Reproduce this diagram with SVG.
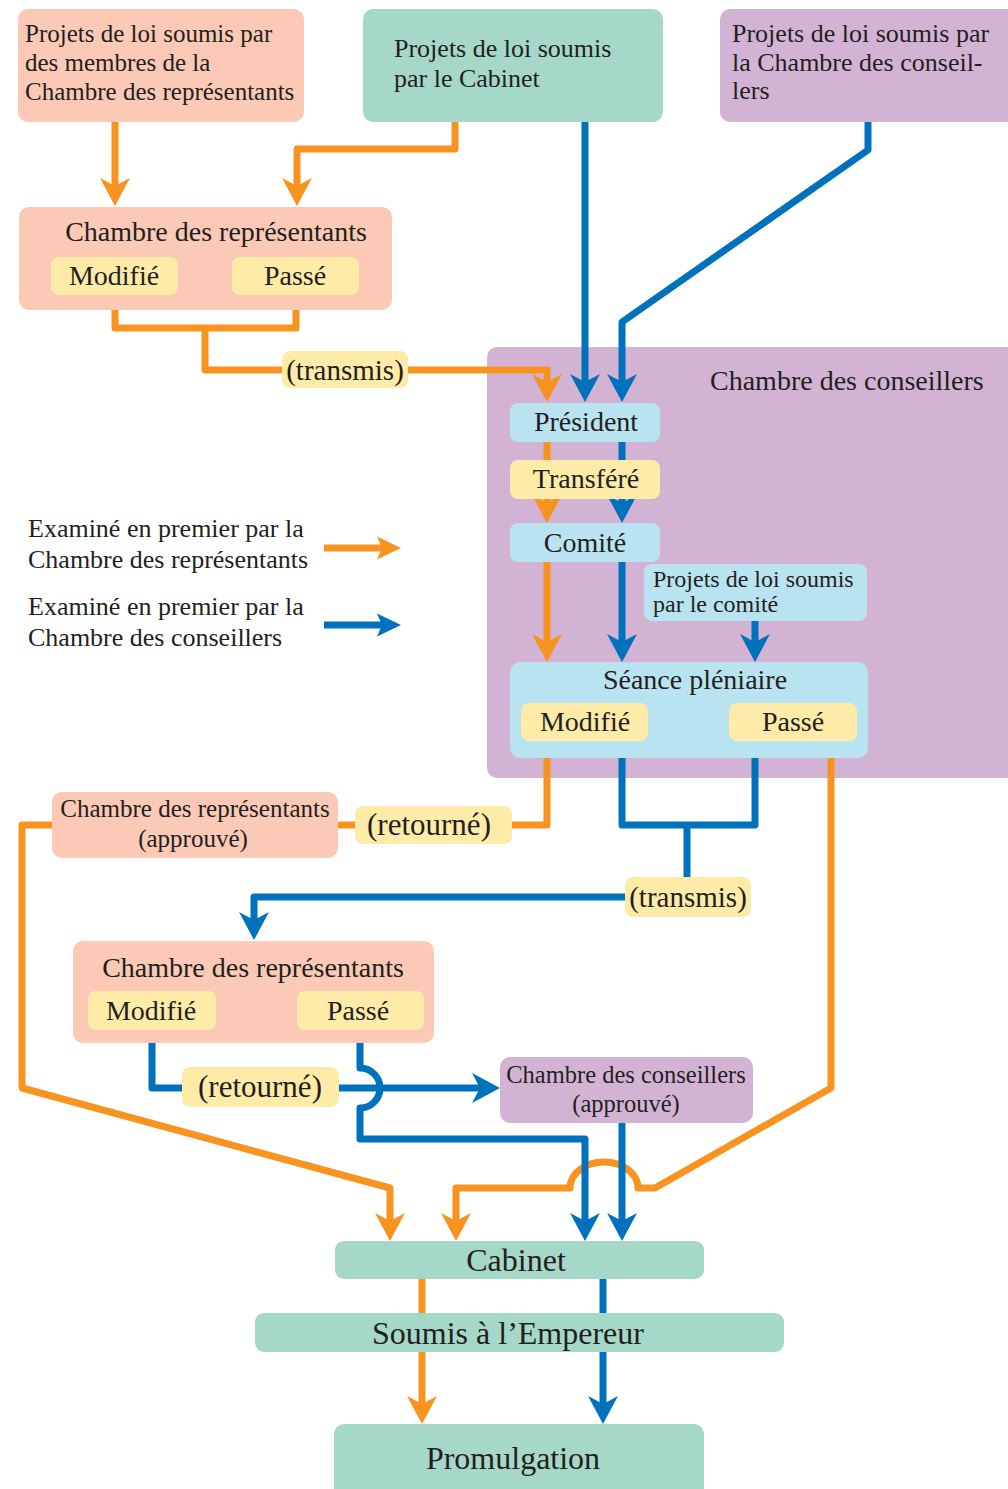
<svg xmlns="http://www.w3.org/2000/svg" width="1008" height="1489" viewBox="0 0 1008 1489">
<style>
text{font-family:"Liberation Serif","Times New Roman",serif;fill:#231F20}
.c{text-anchor:middle}
.o{fill:none;stroke:#F7931E;stroke-width:7;stroke-linejoin:round}
.b{fill:none;stroke:#0071BC;stroke-width:7;stroke-linejoin:round}
.sal{fill:#FBC9B5}.tea{fill:#A6D8CA}.pur{fill:#D3B3D4}.lb{fill:#B9E3F0}.yel{fill:#FEEBA8}
</style>
<defs>
<marker id="ao" markerUnits="userSpaceOnUse" markerWidth="40" markerHeight="40" viewBox="-20 -20 40 40" refX="0" refY="0" orient="auto"><path d="M20,0 L-8,-15 L0,0 L-8,15 Z" fill="#F7931E"/></marker>
<marker id="ab" markerUnits="userSpaceOnUse" markerWidth="40" markerHeight="40" viewBox="-20 -20 40 40" refX="0" refY="0" orient="auto"><path d="M20,0 L-8,-15 L0,0 L-8,15 Z" fill="#0071BC"/></marker>
<marker id="aos" markerUnits="userSpaceOnUse" markerWidth="40" markerHeight="40" viewBox="-20 -20 40 40" refX="0" refY="0" orient="auto"><path d="M19,0 L-5,-11.5 L0,0 L-5,11.5 Z" fill="#F7931E"/></marker>
<marker id="abs" markerUnits="userSpaceOnUse" markerWidth="40" markerHeight="40" viewBox="-20 -20 40 40" refX="0" refY="0" orient="auto"><path d="M19,0 L-5,-11.5 L0,0 L-5,11.5 Z" fill="#0071BC"/></marker>
</defs>

<g id="chambre-conseillers-container">
<rect class="pur" x="487" y="347" width="540" height="431" rx="10"/>
<text x="710" y="390" font-size="28">Chambre des conseillers</text>
</g>

<g id="connectors">
<path class="o" d="M115,122 V186" marker-end="url(#ao)"/>
<path class="o" d="M455,122 V149 H297 V186" marker-end="url(#ao)"/>
<path class="o" d="M115,295 V328 H296 V295"/>
<path class="o" d="M205,328 V370 H547 V382" marker-end="url(#ao)"/>
<path class="o" d="M547,441 V461"/>
<path class="o" d="M547,499 V503" marker-end="url(#ao)"/>
<path class="o" d="M547,562 V642" marker-end="url(#ao)"/>
<path class="o" d="M547,741 V825 H338"/>
<path class="o" d="M52,825 H22 V1088 L390,1188 V1221" marker-end="url(#ao)"/>
<path class="o" d="M831,741 V1088 L655,1188 H638 A34,26 0 0 0 570,1188 H456 V1221" marker-end="url(#ao)"/>
<path class="o" d="M422,1279 V1404" marker-end="url(#ao)"/>
<path class="o" d="M324,548 H382" marker-end="url(#aos)"/>

<path class="b" d="M585,122 V382" marker-end="url(#ab)"/>
<path class="b" d="M868,122 V150 L622,322 V382" marker-end="url(#ab)"/>
<path class="b" d="M622,441 V461"/>
<path class="b" d="M622,499 V503" marker-end="url(#ab)"/>
<path class="b" d="M622,562 V642" marker-end="url(#ab)"/>
<path class="b" d="M755,621 V642" marker-end="url(#ab)"/>
<path class="b" d="M622,741 V825 H755 V741"/>
<path class="b" d="M687,825 V897 H254 V920" marker-end="url(#ab)"/>
<path class="b" d="M152,1030 V1088 H480" marker-end="url(#ab)"/>
<path class="b" d="M360,1043 V1068 A20,20 0 0 1 360,1108 V1139 H585 V1221" marker-end="url(#ab)"/>
<path class="b" d="M622,1123 V1221" marker-end="url(#ab)"/>
<path class="b" d="M603,1279 V1404" marker-end="url(#ab)"/>
<path class="b" d="M324,625 H382" marker-end="url(#abs)"/>
</g>

<g id="projets-membres">
<rect class="sal" x="18" y="9" width="286" height="113" rx="10"/>
<text x="25" y="42" font-size="25">Projets de loi soumis par</text>
<text x="25" y="71" font-size="25">des membres de la</text>
<text x="25" y="100" font-size="25">Chambre des représentants</text>
</g>
<g id="projets-cabinet">
<rect class="tea" x="363" y="9" width="300" height="113" rx="10"/>
<text x="394" y="57" font-size="26">Projets de loi soumis</text>
<text x="394" y="87" font-size="26">par le Cabinet</text>
</g>
<g id="projets-conseillers">
<rect class="pur" x="720" y="9" width="300" height="113" rx="10"/>
<text x="732" y="42" font-size="26">Projets de loi soumis par</text>
<text x="732" y="71" font-size="26">la Chambre des conseil-</text>
<text x="732" y="99" font-size="26">lers</text>
</g>

<g id="chambre-representants-1">
<rect class="sal" x="19" y="207" width="373" height="103" rx="10"/>
<text class="c" x="216" y="241" font-size="28">Chambre des représentants</text>
<rect class="yel" x="51" y="257" width="127" height="38" rx="8"/>
<text class="c" x="114" y="285" font-size="28">Modifié</text>
<rect class="yel" x="232" y="257" width="127" height="38" rx="8"/>
<text class="c" x="295" y="285" font-size="28">Passé</text>
</g>
<g id="label-transmis-1">
<rect class="yel" x="282" y="351" width="126" height="37" rx="8"/>
<text class="c" x="345" y="380" font-size="29">(transmis)</text>
</g>

<g id="president">
<rect class="lb" x="510" y="403" width="150" height="39" rx="8"/>
<text class="c" x="586" y="431" font-size="28">Président</text>
</g>
<g id="transfere">
<rect class="yel" x="510" y="460" width="150" height="39" rx="8"/>
<text class="c" x="586" y="488" font-size="28">Transféré</text>
</g>
<g id="comite">
<rect class="lb" x="510" y="523" width="150" height="39" rx="8"/>
<text class="c" x="585" y="552" font-size="28">Comité</text>
</g>
<g id="projets-comite">
<rect class="lb" x="644" y="564" width="223" height="57" rx="8"/>
<text x="653" y="587" font-size="24">Projets de loi soumis</text>
<text x="653" y="612" font-size="24">par le comité</text>
</g>
<g id="seance">
<rect class="lb" x="510" y="662" width="358" height="96" rx="10"/>
<text class="c" x="695" y="689" font-size="28">Séance pléniaire</text>
<rect class="yel" x="521" y="703" width="127" height="38" rx="8"/>
<text class="c" x="585" y="731" font-size="28">Modifié</text>
<rect class="yel" x="729" y="703" width="128" height="38" rx="8"/>
<text class="c" x="793" y="731" font-size="28">Passé</text>
</g>

<g id="legend">
<text x="28" y="537" font-size="26">Examiné en premier par la</text>
<text x="28" y="568" font-size="26">Chambre des représentants</text>
<text x="28" y="615" font-size="26">Examiné en premier par la</text>
<text x="28" y="646" font-size="26">Chambre des conseillers</text>
</g>

<g id="representants-approuve">
<rect class="sal" x="52" y="792" width="286" height="66" rx="10"/>
<text class="c" x="195" y="817" font-size="25">Chambre des représentants</text>
<text class="c" x="193" y="847" font-size="25">(approuvé)</text>
</g>
<g id="label-retourne-1">
<rect class="yel" x="355" y="806" width="157" height="38" rx="8"/>
<text class="c" x="429" y="835" font-size="31">(retourné)</text>
</g>
<g id="label-transmis-2">
<rect class="yel" x="625" y="877" width="126" height="40" rx="8"/>
<text class="c" x="688" y="907" font-size="29">(transmis)</text>
</g>

<g id="chambre-representants-2">
<rect class="sal" x="73" y="941" width="361" height="102" rx="10"/>
<text class="c" x="253" y="977" font-size="28">Chambre des représentants</text>
<rect class="yel" x="88" y="991" width="128" height="39" rx="8"/>
<text class="c" x="151" y="1020" font-size="28">Modifié</text>
<rect class="yel" x="297" y="991" width="127" height="39" rx="8"/>
<text class="c" x="358" y="1020" font-size="28">Passé</text>
</g>
<g id="label-retourne-2">
<rect class="yel" x="182" y="1067" width="157" height="40" rx="8"/>
<text class="c" x="260" y="1097" font-size="31">(retourné)</text>
</g>
<g id="conseillers-approuve">
<rect class="pur" x="500" y="1057" width="253" height="66" rx="10"/>
<text class="c" x="626" y="1083" font-size="24.5">Chambre des conseillers</text>
<text class="c" x="626" y="1112" font-size="24.5">(approuvé)</text>
</g>

<g id="cabinet">
<rect class="tea" x="335" y="1241" width="369" height="38" rx="9"/>
<text class="c" x="516" y="1271" font-size="32">Cabinet</text>
</g>
<g id="soumis-empereur">
<rect class="tea" x="255" y="1313" width="529" height="39" rx="9"/>
<text class="c" x="508" y="1344" font-size="32">Soumis à l’Empereur</text>
</g>
<g id="promulgation">
<rect class="tea" x="334" y="1424" width="370" height="80" rx="10"/>
<text class="c" x="513" y="1469" font-size="32">Promulgation</text>
</g>
</svg>
